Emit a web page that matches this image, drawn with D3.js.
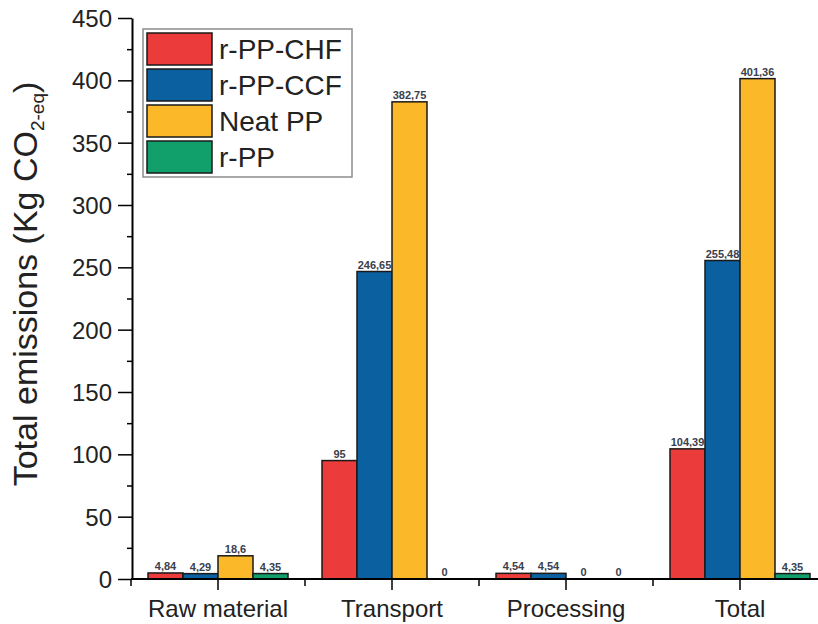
<!DOCTYPE html>
<html>
<head>
<meta charset="utf-8">
<script src="https://cdn.jsdelivr.net/npm/d3@7"></script>
<style>
    body { margin: 0; background: #fff; }
    text { font-family: "Liberation Sans", Arial, sans-serif; }
</style>
</head>
<body>
<div id="container"></div>
<script>

var categories = ["Raw material", "Transport", "Processing", "Total"];
var seriesNames = ["r-PP-CHF", "r-PP-CCF", "Neat PP", "r-PP"];

var chfValues = [4.84, 95, 4.54, 104.39];
var ccfValues = [4.29, 246.65, 4.54, 255.48];
var neatValues = [18.6, 382.75, 0, 401.36];
var rppValues = [4.35, 0, 0, 4.35];

var seriesColors = ["#ec3b3b", "#0b60a0", "#fbb828", "#11a06c"];

var yTicks = [0, 50, 100, 150, 200, 250, 300, 350, 400, 450];

var width = 818, height = 624;

var svg = d3.select("#container").append("svg")
    .attr("width", width)
    .attr("height", height);

var values = [chfValues, ccfValues, neatValues, rppValues];

// one row per category, one cell per series
var rows = categories.map(function (c, i) {
    return seriesNames.map(function (s, j) {
        return { category: c, series: s, index: j, value: values[j][i] };
    });
});

var x0 = d3.scaleBand().domain(categories).range([131, 827]);
var x1 = d3.scaleBand().domain(seriesNames).range([17, 157]);
var y = d3.scaleLinear().domain([0, 450]).range([579, 18]);

// y axis: minor ticks first, then major
svg.append("g")
    .attr("transform", "translate(132,0)")
    .call(d3.axisLeft(y).tickValues(d3.range(25, 450, 50)).tickSize(5).tickFormat(""))
    .call(function (g) { g.select(".domain").remove(); })
    .selectAll("line").attr("stroke", "#000").attr("stroke-width", 1.5);

var yAxis = svg.append("g")
    .attr("transform", "translate(132,0)")
    .call(d3.axisLeft(y).tickValues(yTicks).tickSize(14).tickPadding(6).tickSizeOuter(0));
yAxis.select(".domain").attr("stroke-width", 2);
yAxis.selectAll("line").attr("stroke-width", 1.5);
yAxis.selectAll("text")
    .style("font-size", "24px")
    .attr("fill", "#222")
    .attr("dy", "0.36em");

// bars
var groups = svg.append("g").selectAll("g")
    .data(rows)
    .join("g")
    .attr("transform", function (d, i) { return "translate(" + x0(categories[i]) + ",0)"; });

groups.selectAll("rect")
    .data(function (d) { return d.filter(function (e) { return e.value > 0; }); })
    .join("rect")
    .attr("x", function (d) { return x1(d.series); })
    .attr("y", function (d) { return y(d.value); })
    .attr("width", x1.bandwidth())
    .attr("height", function (d) { return y(0) - y(d.value); })
    .attr("fill", function (d) { return seriesColors[d.index]; })
    .attr("stroke", "#1a1a1a")
    .attr("stroke-width", 1.5);

groups.selectAll("text")
    .data(function (d) { return d; })
    .join("text")
    .attr("x", function (d) { return x1(d.series) + x1.bandwidth() / 2; })
    .attr("y", function (d) { return y(d.value) - 3; })
    .attr("text-anchor", "middle")
    .style("font-size", "11px")
    .style("font-weight", "bold")
    .attr("fill", "#3b404c")
    .text(function (d) { return String(d.value).replace(".", ","); });

// x axis
var xAxis = svg.append("g").attr("transform", "translate(0,579)");
xAxis.append("line")
    .attr("x1", 131).attr("x2", width)
    .attr("stroke", "#000").attr("stroke-width", 2);

xAxis.selectAll(".minor")
    .data(categories)
    .join("line")
    .attr("class", "minor")
    .attr("x1", function (d) { return x0(d); })
    .attr("x2", function (d) { return x0(d); })
    .attr("y2", 7)
    .attr("stroke", "#000").attr("stroke-width", 1.5);

xAxis.selectAll(".major")
    .data(categories)
    .join("line")
    .attr("class", "major")
    .attr("x1", function (d) { return x0(d) + x0.bandwidth() / 2; })
    .attr("x2", function (d) { return x0(d) + x0.bandwidth() / 2; })
    .attr("y2", 11)
    .attr("stroke", "#000").attr("stroke-width", 1.5);

xAxis.selectAll("text")
    .data(categories)
    .join("text")
    .attr("x", function (d) { return x0(d) + x0.bandwidth() / 2; })
    .attr("y", 38)
    .attr("text-anchor", "middle")
    .style("font-size", "24px")
    .attr("fill", "#222")
    .text(function (d) { return d; });

// y title
var title = svg.append("text")
    .attr("transform", "translate(37,284) rotate(-90)")
    .attr("text-anchor", "middle")
    .style("font-size", "34px")
    .attr("fill", "#222");
title.append("tspan").text("Total emissions (Kg CO");
title.append("tspan").attr("dy", 7).style("font-size", "19px").text("2-eq");
title.append("tspan").attr("dy", -7).text(")");

// legend
var legend = svg.append("g");
legend.append("rect")
    .attr("x", 143).attr("y", 29)
    .attr("width", 209).attr("height", 148)
    .attr("fill", "#fff")
    .attr("stroke", "#8c8c8c")
    .attr("stroke-width", 1.5);

var items = legend.selectAll("g.item")
    .data(seriesNames)
    .join("g")
    .attr("class", "item")
    .attr("transform", function (d, i) { return "translate(147," + (33 + i * 36) + ")"; });

items.append("rect")
    .attr("width", 65).attr("height", 32)
    .attr("fill", function (d, i) { return seriesColors[i]; })
    .attr("stroke", "#1a1a1a")
    .attr("stroke-width", 1.5);

items.append("text")
    .attr("x", 72).attr("y", 26)
    .style("font-size", "28px")
    .attr("fill", "#222")
    .text(function (d) { return d; });

</script>
</body>
</html>
